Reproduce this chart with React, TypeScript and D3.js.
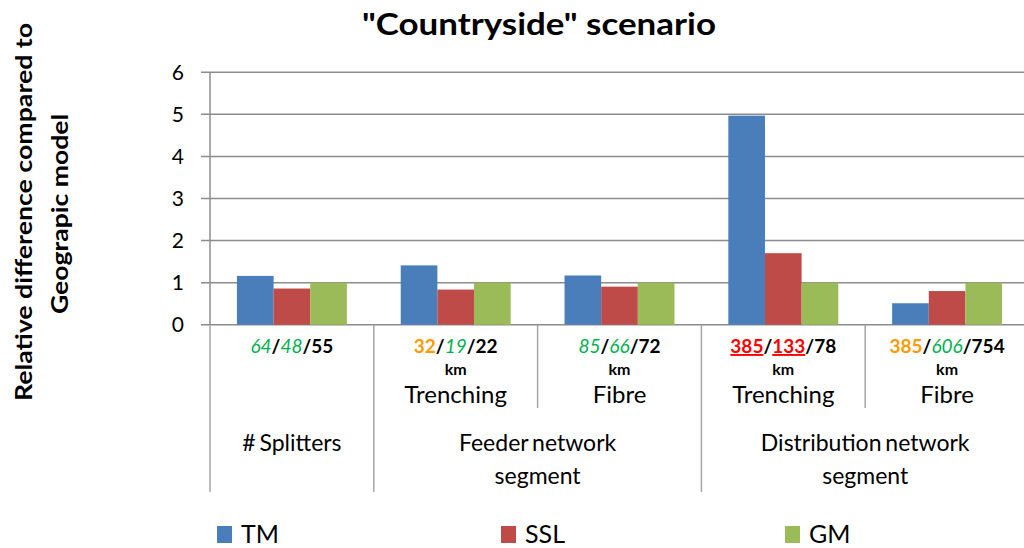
import React from "react";
import * as d3 from "d3";

// bar heights relative to the geographic model (GM = 1)
const categories = ["splitters", "feederTrench", "feederFibre", "distTrench", "distFibre"];
const series = ["TM", "SSL", "GM"];
const tmValues = [1.16, 1.41, 1.17, 4.97, 0.51];
const sslValues = [0.86, 0.835, 0.905, 1.7, 0.8];
const gmValues = [1, 1, 1, 1, 1];
const yTicks = [0, 1, 2, 3, 4, 5, 6];

// absolute numbers shown under each group: TM / SSL / GM
const tmCounts = ["64", "32", "85", "385", "385"];
const sslCounts = ["48", "19", "66", "133", "606"];
const gmCounts = ["55", "22", "72", "78", "754"];
const tmMarks = ["good", "warn", "good", "bad", "warn"];
const sslMarks = ["good", "good", "good", "bad", "good"];
const units = ["", "km", "km", "km", "km"];
const subLabels = ["", "Trenching", "Fibre", "Trenching", "Fibre"];
const groupLabels = [["# Splitters"], ["Feeder network", "segment"], ["Distribution network", "segment"]];
const groupSpans = [1, 2, 2];

const colors = ["#4A7EBB", "#BE4B48", "#9BBB59"];
const FONT = "Lato, 'Open Sans', sans-serif";

const markStyle = (m: string): React.CSSProperties => {
  if (m === "good") return { fill: "#00B050", fontStyle: "italic", fontWeight: 400 };
  if (m === "warn") return { fill: "#FF9A00", fontWeight: 700 };
  if (m === "bad") return { fill: "#FF0000", fontWeight: 700, textDecoration: "underline" };
  return { fill: "#000", fontWeight: 700 };
};

export default function App() {
  const width = 1024;
  const height = 548;
  const left = 210;
  const right = 1029;
  const top = 72.3;
  const bottom = 324.7;

  const x0 = d3.scaleBand<string>().domain(categories).range([left, right]).paddingInner(0).paddingOuter(0);
  const x1 = d3.scaleBand<string>().domain(series).range([0, x0.bandwidth()]).paddingInner(0).paddingOuter(0.735);
  const y = d3.scaleLinear().domain([0, 6]).range([bottom, top]);

  const values = [tmValues, sslValues, gmValues];

  // outer group boundaries
  const groupEdges: number[] = [left];
  let idx = 0;
  groupSpans.forEach((s) => {
    idx += s;
    groupEdges.push(idx < categories.length ? (x0(categories[idx]) as number) : right);
  });

  return (
    <svg
      width={width}
      height={height}
      style={{ position: "absolute", left: 0, top: 0, background: "#fff", fontFamily: FONT }}
    >
      <text x={539} y={35} textAnchor="middle" fontSize={30} fontWeight={700} textLength={354} lengthAdjust="spacingAndGlyphs">
        "Countryside" scenario
      </text>

      <g transform="translate(32,212) rotate(-90)">
        <text textAnchor="middle" fontSize={23} fontWeight={700} textLength={378} lengthAdjust="spacingAndGlyphs">
          Relative difference compared to
        </text>
      </g>
      <g transform="translate(68,214) rotate(-90)">
        <text textAnchor="middle" fontSize={23} fontWeight={700} textLength={200} lengthAdjust="spacingAndGlyphs">
          Geograpic model
        </text>
      </g>

      {/* gridlines and y ticks */}
      {yTicks.map((t) => (
        <g key={t}>
          <line x1={201} x2={width} y1={y(t)} y2={y(t)} stroke="#8C8C8C" strokeWidth={1.5} />
          <text x={184} y={y(t) + 7.5} textAnchor="end" fontSize={21}>
            {t}
          </text>
        </g>
      ))}
      <line x1={left} x2={left} y1={top} y2={bottom} stroke="#8C8C8C" strokeWidth={1.5} />

      {/* bars */}
      {categories.map((c, i) => (
        <g key={c} transform={`translate(${x0(c)},0)`}>
          {series.map((s, j) => (
            <rect
              key={s}
              x={x1(s)}
              y={y(values[j][i])}
              width={x1.bandwidth()}
              height={bottom - y(values[j][i])}
              fill={colors[j]}
            />
          ))}
        </g>
      ))}

      {/* category divider lines */}
      {categories.map((c, i) =>
        i === 0 || groupEdges.includes(x0(c) as number) ? null : (
          <line key={c} x1={x0(c)} x2={x0(c)} y1={bottom} y2={408} stroke="#A6A6A6" strokeWidth={1.5} />
        )
      )}
      {groupEdges.map((e, i) => (
        <line key={i} x1={e} x2={e} y1={bottom} y2={492} stroke="#A6A6A6" strokeWidth={1.5} />
      ))}

      {/* inner category labels */}
      {categories.map((c, i) => {
        const cx = (x0(c) as number) + x0.bandwidth() / 2;
        return (
          <g key={c} fontSize={19}>
            <text x={cx} y={353} textAnchor="middle">
              <tspan style={markStyle(tmMarks[i])}>{tmCounts[i]}</tspan>
              <tspan fontWeight={700}>/</tspan>
              <tspan style={markStyle(sslMarks[i])}>{sslCounts[i]}</tspan>
              <tspan fontWeight={700}>/</tspan>
              <tspan fontWeight={700}>{gmCounts[i]}</tspan>
            </text>
            {units[i] && (
              <text x={cx} y={375} textAnchor="middle" fontWeight={700} fontSize={16}>
                {units[i]}
              </text>
            )}
            {subLabels[i] && (
              <text x={cx} y={403} textAnchor="middle" fontSize={24}>
                {subLabels[i]}
              </text>
            )}
          </g>
        );
      })}

      {/* outer group labels */}
      {groupLabels.map((lines, i) => {
        const cx = (groupEdges[i] + groupEdges[i + 1]) / 2;
        return (
          <text key={i} x={cx} y={451} textAnchor="middle" fontSize={23} wordSpacing={-2}>
            {lines.map((l, k) => (
              <tspan key={k} x={cx} dy={k === 0 ? 0 : 33}>
                {l}
              </tspan>
            ))}
          </text>
        );
      })}

      {/* legend */}
      {series.map((s, j) => {
        const lx = 217 + j * 284;
        return (
          <g key={s}>
            <rect x={lx} y={526} width={15} height={17} fill={colors[j]} />
            <text x={lx + 24} y={543} fontSize={25}>
              {s}
            </text>
          </g>
        );
      })}
    </svg>
  );
}
